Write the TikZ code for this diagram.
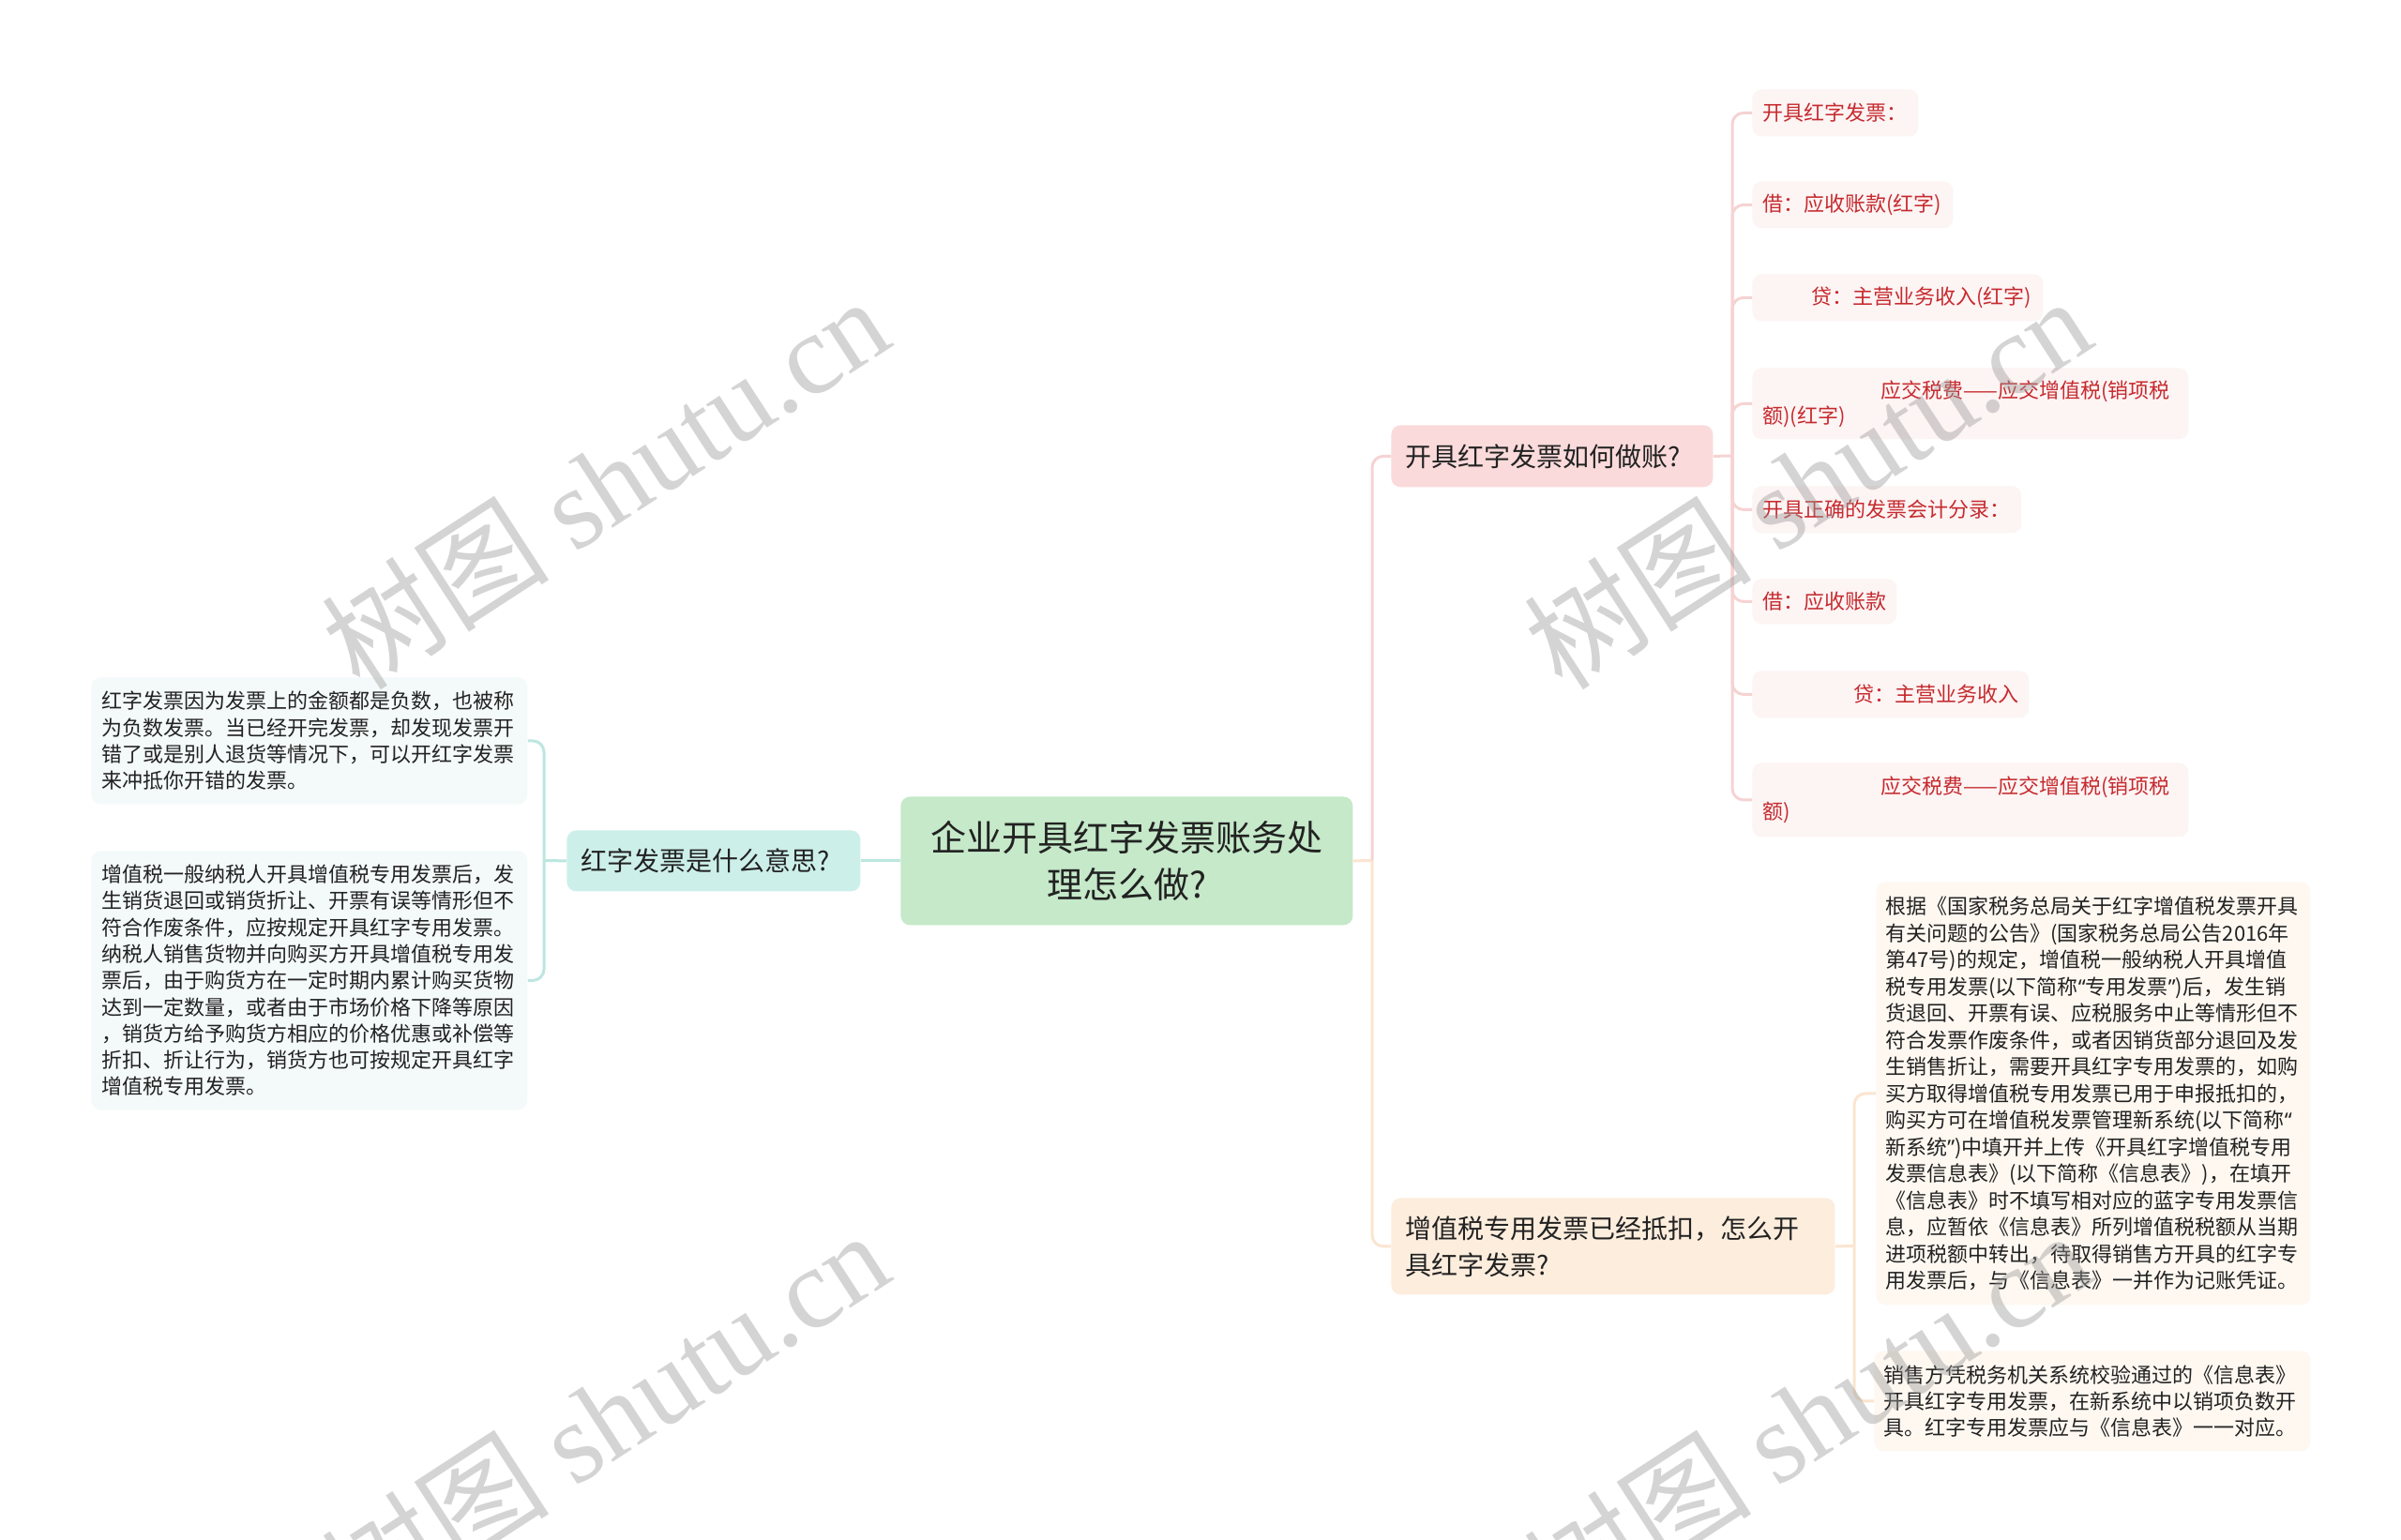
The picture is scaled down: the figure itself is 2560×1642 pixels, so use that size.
\documentclass[tikz,border=0pt]{standalone}
\usepackage{fontspec}
\setmainfont{Noto Sans CJK SC}
\newfontfamily\wmserif{Liberation Serif}
\newfontfamily\latinq{Noto Sans}
\newcommand{\myqlq}{{\latinq “}}
\newcommand{\myqrq}{{\latinq ”}}
\definecolor{rootfill}{HTML}{C5E9C9}
\definecolor{lbfill}{HTML}{CDEFEA}
\definecolor{llfill}{HTML}{F3FAF9}
\definecolor{bonefill}{HTML}{FADADA}
\definecolor{leafpink}{HTML}{FDF4F4}
\definecolor{btwofill}{HTML}{FDEDDD}
\definecolor{leafpeach}{HTML}{FEF8F1}
\definecolor{cyanline}{HTML}{BDE6E0}
\definecolor{pinkline}{HTML}{F6D3D3}
\definecolor{peachline}{HTML}{FBE5D0}
\definecolor{redtext}{HTML}{C62A2E}
\definecolor{darktext}{HTML}{222222}
\tikzset{
  nbox/.style={rounded corners=5pt, inner ysep=0pt, anchor=north west, align=left},
  rootbox/.style={nbox, fill=rootfill, text=darktext, align=center, inner xsep=10pt,
     text width=221pt, minimum height=68.5pt, font=\fontsize{19pt}{25pt}\selectfont},
  branchbox/.style={nbox, text=darktext, inner xsep=7.5pt, font=\fontsize{14pt}{19.5pt}\selectfont},
  leftleaf/.style={nbox, fill=llfill, text=darktext, inner xsep=5.5pt, text width=221.5pt,
     font=\fontsize{11pt}{14.15pt}\selectfont},
  redleaf/.style={nbox, fill=leafpink, text=redtext, inner xsep=5.5pt,
     font=\fontsize{11pt}{13.5pt}\selectfont},
  peachleaf/.style={nbox, fill=leafpeach, text=darktext, inner xsep=5pt,
     font=\fontsize{11pt}{14.25pt}\selectfont},
  conn/.style={line width=1.5pt, rounded corners=6pt},
  wmark/.style={rotate=33, text=black!40, opacity=0.42, font=\fontsize{61pt}{61pt}\selectfont}
}
\begin{document}
\begin{tikzpicture}[x=0.5pt,y=-0.5pt]
\useasboundingbox (0,0) rectangle (2560,1642);
\fill[white] (0,0) rectangle (2560,1642);

% root
\node[rootbox] (root) at (960,849) {企业开具红字发票账务处\\理怎么做?};

% left branch
\node[branchbox, fill=lbfill, text width=141.5pt, minimum height=32.5pt] (lb) at (604,885) {红字发票是什么意思?};
\node[leftleaf, minimum height=67.5pt] (ll1) at (97,722) {红字发票因为发票上的金额都是负数，也被称\\为负数发票。当已经开完发票，却发现发票开\\错了或是别人退货等情况下，可以开红字发票\\来冲抵你开错的发票。};
\node[leftleaf, minimum height=138pt] (ll2) at (97,907) {增值税一般纳税人开具增值税专用发票后，发\\生销货退回或销货折让、开票有误等情形但不\\符合作废条件，应按规定开具红字专用发票。\\纳税人销售货物并向购买方开具增值税专用发\\票后，由于购货方在一定时期内累计购买货物\\达到一定数量，或者由于市场价格下降等原因\\，销货方给予购货方相应的价格优惠或补偿等\\折扣、折让行为，销货方也可按规定开具红字\\增值税专用发票。};

% right branches
\node[branchbox, fill=bonefill, text width=156.5pt, minimum height=33pt] (b1) at (1483,453) {开具红字发票如何做账?};
\node[branchbox, fill=btwofill, text width=221.5pt, minimum height=51.5pt] (b2) at (1483,1277) {增值税专用发票已经抵扣，怎么开\\具红字发票?};

% branch 1 leaves
\node[redleaf, text width=77.5pt, minimum height=25pt] (l1) at (1868,95) {开具红字发票：};
\node[redleaf, text width=96pt, minimum height=25pt] (l2) at (1868,193) {借：应收账款(红字)};
\node[redleaf, text width=144pt, minimum height=25pt] (l3) at (1868,292) {\hspace*{26pt}贷：主营业务收入(红字)};
\node[redleaf, text width=221.5pt, minimum height=38pt] (l4) at (1868,392) {\hspace*{63pt}应交税费——应交增值税(销项税\\额)(红字)};
\node[redleaf, text width=132.5pt, minimum height=25pt] (l5) at (1868,518) {开具正确的发票会计分录：};
\node[redleaf, text width=66pt, minimum height=24pt] (l6) at (1868,617) {借：应收账款};
\node[redleaf, text width=136.5pt, minimum height=25pt] (l7) at (1868,715) {\hspace*{48.5pt}贷：主营业务收入};
\node[redleaf, text width=221.5pt, minimum height=39.5pt] (l8) at (1868,813) {\hspace*{63pt}应交税费——应交增值税(销项税\\额)};

% branch 2 leaves
\node[peachleaf, text width=221.5pt, minimum height=225.5pt] (r1) at (2000,940) {根据《国家税务总局关于红字增值税发票开具\\有关问题的公告》(国家税务总局公告2016年\\第47号)的规定，增值税一般纳税人开具增值\\税专用发票(以下简称\myqlq 专用发票\myqrq)后，发生销\\货退回、开票有误、应税服务中止等情形但不\\符合发票作废条件，或者因销货部分退回及发\\生销售折让，需要开具红字专用发票的，如购\\买方取得增值税专用发票已用于申报抵扣的，\\购买方可在增值税发票管理新系统(以下简称\myqlq\\新系统\myqrq)中填开并上传《开具红字增值税专用\\发票信息表》(以下简称《信息表》)，在填开\\《信息表》时不填写相对应的蓝字专用发票信\\息，应暂依《信息表》所列增值税税额从当期\\进项税额中转出，待取得销售方开具的红字专\\用发票后，与《信息表》一并作为记账凭证。};
\node[peachleaf, text width=222.5pt, minimum height=53.5pt, font=\fontsize{11pt}{14pt}\selectfont] (r2) at (1998,1440) {销售方凭税务机关系统校验通过的《信息表》\\开具红字专用发票，在新系统中以销项负数开\\具。红字专用发票应与《信息表》一一对应。};

% trunk points
\coordinate (t0) at (580,917.5);
\coordinate (tr) at (1463,917.5);
\coordinate (t1) at (1847,486);
\coordinate (t2) at (1977,1328.5);

% left connectors
\draw[conn, cyanline] (root.west) -- (lb.east);
\draw[conn, cyanline] (lb.west) -- (t0);
\draw[conn, cyanline] (t0) |- (ll1.east);
\draw[conn, cyanline] (t0) |- (ll2.east);

% right connectors
\draw[conn, peachline] (root.east) -- (tr);
\draw[conn, pinkline] (tr) |- (b1.west);
\draw[conn, peachline] (tr) |- (b2.west);

\draw[conn, pinkline] (b1.east) -- (t1);
\foreach \n in {l1,l2,l3,l4,l5,l6,l7,l8}{
  \draw[conn, pinkline] (t1) |- (\n.west);
}
\draw[conn, peachline] (b2.east) -- (t2);
\draw[conn, peachline] (t2) |- (r1.west);
\draw[conn, peachline] (t2) |- (r2.west);

% watermarks
\node[wmark] (w1) at (645,514) {树图 {\wmserif shutu.cn}};
\node[wmark] (w2) at (1927,514) {树图 {\wmserif shutu.cn}};
\node[wmark] (w3) at (645,1510) {树图 {\wmserif shutu.cn}};
\node[wmark] (w4) at (1927,1510) {树图 {\wmserif shutu.cn}};
\end{tikzpicture}
\end{document}
